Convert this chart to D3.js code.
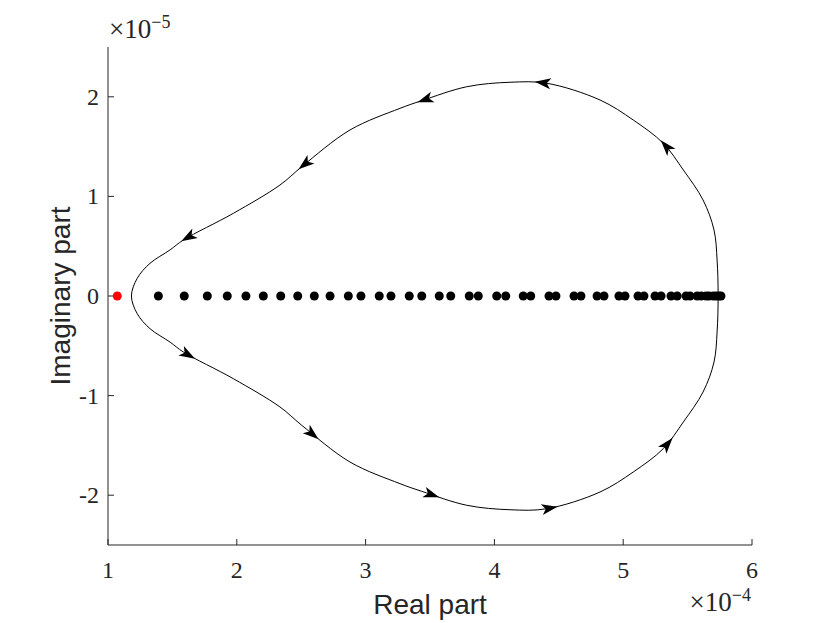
<!DOCTYPE html>
<html>
<head>
<meta charset="utf-8">
<script src="https://cdn.jsdelivr.net/npm/d3@7"></script>
<style>
  html, body { margin: 0; padding: 0; background: #fff; }
  svg { display: block; }
  .tick-label { font-family: "Liberation Serif", "DejaVu Serif", serif; font-size: 24px; fill: #262626; }
  .exp-label { font-family: "Liberation Serif", "DejaVu Serif", serif; font-size: 27px; fill: #262626; }
  .axis-title { font-family: "Liberation Sans", Arial, sans-serif; font-size: 28px; fill: #262626; }
</style>
</head>
<body>
<svg id="chart" width="830" height="623"></svg>
<script>
// values in units of 1e-4 (real) and 1e-5 (imag)
const xTicks = [1, 2, 3, 4, 5, 6];
const yTicks = [-2, -1, 0, 1, 2];

// black eigenvalues on the real axis
const realEigs = [
  1.391, 1.592, 1.771, 1.926, 2.071, 2.206, 2.341, 2.473, 2.602, 2.724,
  2.866, 2.964, 3.106, 3.197, 3.339, 3.436, 3.572, 3.661, 3.805, 3.875,
  4.018, 4.088, 4.224, 4.282, 4.424, 4.478, 4.618, 4.672, 4.797, 4.851,
  4.967, 5.014, 5.115, 5.161, 5.247, 5.294, 5.371, 5.419, 5.488, 5.519,
  5.574, 5.605, 5.643, 5.666, 5.699, 5.721, 5.744, 5.759
];
const redEig = [1.072, 0];

// contour, lower branch (tip -> right), then upper branch (right -> tip)
const lowerBranch = [
  [1.182, 0], [1.227, -0.178], [1.326, -0.328], [1.481, -0.462], [1.585, -0.562],
  [1.973, -0.830], [2.335, -1.114], [2.504, -1.298], [2.879, -1.667], [3.267, -1.884],
  [3.436, -1.961], [3.785, -2.101], [4.121, -2.146], [4.406, -2.136], [4.820, -1.968],
  [5.078, -1.767], [5.311, -1.533], [5.467, -1.265], [5.620, -0.964], [5.705, -0.663],
  [5.729, -0.361], [5.737, 0]
];
const upperBranch = [
  [5.737, 0], [5.729, 0.361], [5.705, 0.663], [5.620, 0.964], [5.467, 1.265],
  [5.311, 1.533], [5.078, 1.767], [4.820, 1.968], [4.406, 2.136], [4.121, 2.146],
  [3.785, 2.101], [3.436, 1.961], [3.267, 1.884], [2.879, 1.667], [2.504, 1.298],
  [2.335, 1.114], [1.973, 0.830], [1.585, 0.562], [1.481, 0.462], [1.326, 0.328],
  [1.227, 0.178], [1.182, 0]
];

// arrow positions on the contour
const arrows = [
  [1.621, -0.592], [2.592, -1.375], [3.516, -1.978], [4.432, -2.129], [5.348, -1.496],
  [5.348, 1.516], [4.377, 2.129], [3.461, 1.988], [2.522, 1.335], [1.621, 0.592]
];

const svg = d3.select("#chart");
const axisColor = "#262626";

const x = d3.scaleLinear().domain([1, 6]).range([108, 752]);
const y = d3.scaleLinear().domain([-2.5, 2.5]).range([545, 47]);

// axes lines
svg.append("line")
  .attr("x1", x(1)).attr("x2", x(1))
  .attr("y1", y(2.5)).attr("y2", y(-2.5))
  .attr("stroke", axisColor).attr("stroke-width", 1);
svg.append("line")
  .attr("x1", x(1)).attr("x2", x(6))
  .attr("y1", y(-2.5)).attr("y2", y(-2.5))
  .attr("stroke", axisColor).attr("stroke-width", 1);

// ticks (inward)
svg.selectAll(".xtick")
  .data(xTicks)
  .join("line")
  .attr("x1", (d) => x(d)).attr("x2", (d) => x(d))
  .attr("y1", y(-2.5)).attr("y2", y(-2.5) - 6)
  .attr("stroke", axisColor);

svg.selectAll(".ytick")
  .data(yTicks)
  .join("line")
  .attr("x1", x(1)).attr("x2", x(1) + 6)
  .attr("y1", (d) => y(d)).attr("y2", (d) => y(d))
  .attr("stroke", axisColor);

svg.selectAll(".xlab")
  .data(xTicks)
  .join("text")
  .attr("class", "tick-label")
  .attr("x", (d) => x(d))
  .attr("y", 578)
  .attr("text-anchor", "middle")
  .text((d) => d);

svg.selectAll(".ylab")
  .data(yTicks)
  .join("text")
  .attr("class", "tick-label")
  .attr("x", 99)
  .attr("y", (d) => y(d) + 8)
  .attr("text-anchor", "end")
  .text((d) => (d < 0 ? "-" + Math.abs(d) : d));

// exponent labels
const expTop = svg.append("text")
  .attr("class", "exp-label")
  .attr("x", 109)
  .attr("y", 38);
expTop.append("tspan").text("×10");
expTop.append("tspan").attr("dy", -10).attr("font-size", 18).text("−5");

const expBottom = svg.append("text")
  .attr("class", "exp-label")
  .attr("x", 751)
  .attr("y", 611)
  .attr("text-anchor", "end");
expBottom.append("tspan").text("×10");
expBottom.append("tspan").attr("dy", -10).attr("font-size", 18).text("−4");

// axis titles
svg.append("text")
  .attr("class", "axis-title")
  .attr("x", (x(1) + x(6)) / 2)
  .attr("y", 614)
  .attr("text-anchor", "middle")
  .text("Real part");

svg.append("text")
  .attr("class", "axis-title")
  .attr("transform", `translate(70, ${(y(-2.5) + y(2.5)) / 2}) rotate(-90)`)
  .attr("text-anchor", "middle")
  .text("Imaginary part");

// contour
const loop = lowerBranch.slice(0, -1).concat(upperBranch.slice(0, -1));
const line = d3.line()
  .x((d) => x(d[0]))
  .y((d) => y(d[1]))
  .curve(d3.curveCatmullRomClosed.alpha(0.5));

const contour = svg.append("path")
  .attr("d", line(loop))
  .attr("fill", "none")
  .attr("stroke", "#000")
  .attr("stroke-width", 1);

// arrows along the contour, oriented by the path tangent
const node = contour.node();
const total = node.getTotalLength();
const samples = d3.range(0, total, 1).map((l) => {
  const p = node.getPointAtLength(l);
  return { l, x: p.x, y: p.y };
});

const arrowData = arrows.map(([ax, ay]) => {
  const px = x(ax), py = y(ay);
  const best = d3.least(samples, (s) => (s.x - px) ** 2 + (s.y - py) ** 2);
  const a = node.getPointAtLength(Math.max(0, best.l - 2));
  const b = node.getPointAtLength(Math.min(total, best.l + 2));
  const angle = Math.atan2(b.y - a.y, b.x - a.x) * 180 / Math.PI;
  return { x: best.x, y: best.y, angle };
});

svg.selectAll(".arrow")
  .data(arrowData)
  .join("path")
  .attr("class", "arrow")
  .attr("d", "M8,0 L-8,-5.5 L-4,0 L-8,5.5 Z")
  .attr("transform", (d) => `translate(${d.x},${d.y}) rotate(${d.angle})`)
  .attr("fill", "#000");

// eigenvalues
svg.selectAll(".eig")
  .data(realEigs)
  .join("circle")
  .attr("cx", (d) => x(d))
  .attr("cy", y(0))
  .attr("r", 4.5)
  .attr("fill", "#000");

svg.append("circle")
  .attr("cx", x(redEig[0]))
  .attr("cy", y(redEig[1]))
  .attr("r", 4.5)
  .attr("fill", "#ff0000");
</script>
</body>
</html>
